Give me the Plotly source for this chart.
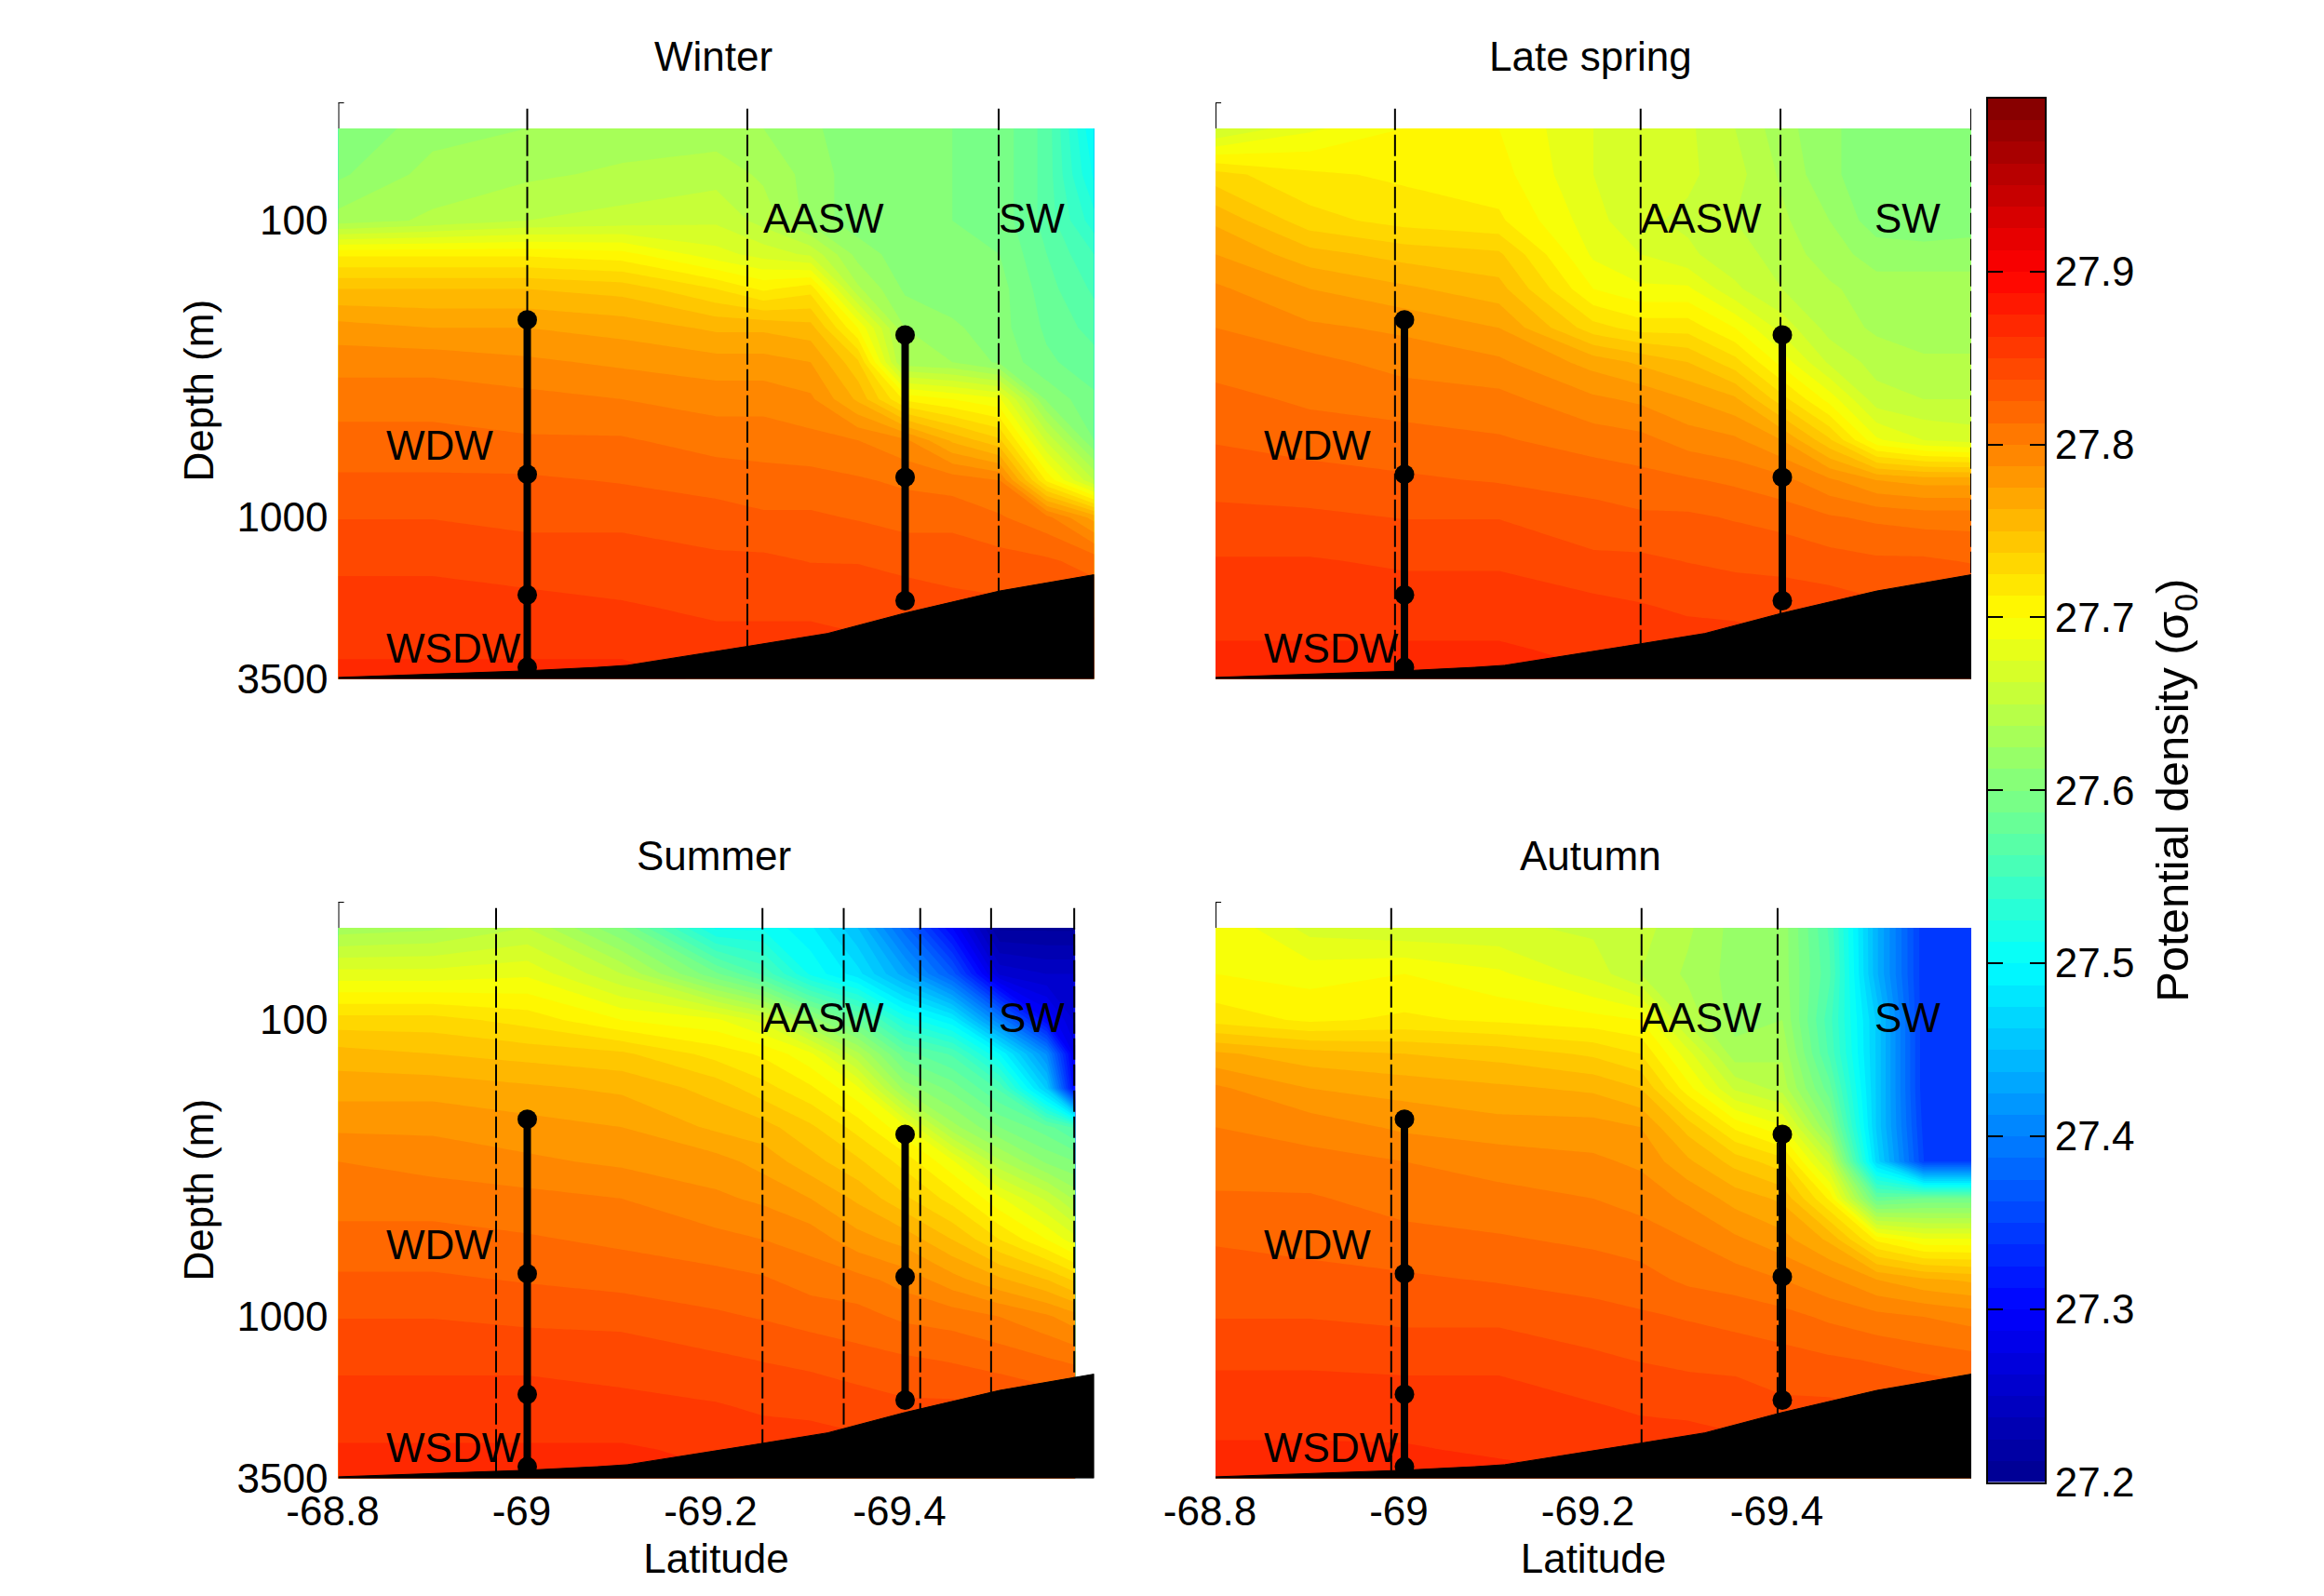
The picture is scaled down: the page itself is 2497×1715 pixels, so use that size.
import numpy as np
import plotly.graph_objects as go

W, H = 2497, 1715
FONT = "Liberation Sans"
FS = 44

panel_titles = ["Winter", "Late spring", "Summer", "Autumn"]

depths = [49, 70, 100, 130, 170, 230, 300, 400, 550, 750, 1000, 1400, 2000, 2800, 3500]
lats = [-68.8, -68.9, -69.0, -69.1, -69.2, -69.25, -69.3, -69.35, -69.4, -69.45, -69.5, -69.55, -69.6]
lats_summer = [-68.8, -68.9, -69.0, -69.1, -69.2, -69.25, -69.3, -69.35, -69.4, -69.45, -69.5, -69.55, -69.58]

# potential density, as sigma0 - 27, in hundredths
winter = [
    [60.0, 62.0, 62.5, 63.0, 63.0, 62.5, 61.5, 60.5, 60.0, 60.0, 59.5, 57.0, 50.0],
    [61.0, 63.0, 63.5, 64.0, 64.5, 63.5, 62.0, 60.5, 60.0, 60.0, 59.5, 57.0, 51.0],
    [63.0, 64.0, 65.0, 65.5, 66.0, 64.5, 62.0, 60.5, 60.0, 60.0, 59.5, 57.0, 53.0],
    [71.0, 71.0, 71.0, 70.5, 68.0, 67.0, 66.0, 62.0, 60.5, 60.0, 60.0, 57.5, 55.0],
    [75.0, 75.0, 75.0, 74.5, 72.5, 71.0, 72.0, 64.0, 61.0, 60.5, 60.5, 58.0, 56.0],
    [78.0, 77.5, 77.5, 77.0, 76.0, 76.0, 75.5, 70.0, 62.5, 61.5, 60.5, 58.5, 57.0],
    [79.5, 79.5, 79.0, 78.5, 78.0, 78.0, 77.5, 74.0, 63.0, 62.5, 61.0, 59.0, 58.0],
    [80.7, 80.7, 80.4, 80.0, 79.5, 79.5, 79.0, 76.0, 71.0, 70.0, 69.0, 61.0, 59.0],
    [81.7, 81.7, 81.4, 81.4, 80.7, 80.7, 80.4, 80.0, 79.0, 76.0, 74.0, 66.0, 60.0],
    [82.7, 82.7, 82.7, 82.4, 82.0, 81.7, 81.7, 81.4, 81.0, 80.7, 80.0, 71.0, 65.0],
    [83.7, 83.7, 83.4, 83.4, 83.0, 82.7, 82.7, 82.4, 82.0, 82.0, 81.4, 80.4, 77.0],
    [84.8, 84.8, 84.4, 84.4, 84.0, 84.0, 83.7, 83.7, 83.4, 83.4, 83.0, 82.7, 82.0],
    [85.4, 85.4, 85.4, 85.1, 84.8, 84.8, 84.8, 84.4, 84.4, 84.0, 84.0, 83.7, 83.4],
    [86.0, 86.0, 86.0, 86.0, 85.4, 85.4, 85.4, 85.4, 85.1, 84.8, 84.8, 84.8, 84.8],
    [86.8, 86.8, 86.8, 86.8, 86.0, 86.0, 86.0, 86.0, 85.7, 85.4, 85.4, 85.4, 85.4],
]
late_spring = [
    [66.0, 68.5, 70.0, 70.0, 67.5, 67.0, 66.5, 65.0, 63.0, 61.5, 60.5, 60.5, 60.5],
    [73.0, 71.5, 71.0, 70.5, 67.5, 67.0, 66.5, 65.5, 63.5, 61.5, 60.5, 60.0, 60.0],
    [76.0, 73.0, 72.0, 71.5, 68.0, 66.5, 66.0, 65.0, 64.0, 62.5, 60.5, 60.0, 60.5],
    [77.5, 75.5, 74.5, 74.0, 68.5, 67.5, 66.5, 65.5, 64.5, 63.0, 62.0, 62.0, 62.0],
    [79.0, 77.5, 76.5, 75.5, 70.0, 69.0, 69.0, 66.5, 65.0, 64.0, 63.0, 63.0, 63.0],
    [80.0, 79.0, 78.5, 77.5, 73.0, 72.0, 72.0, 70.0, 67.0, 64.5, 63.5, 63.0, 63.0],
    [80.7, 80.4, 79.5, 79.0, 77.0, 76.0, 75.0, 73.0, 69.5, 66.0, 64.5, 64.0, 64.0],
    [81.7, 81.0, 80.7, 80.4, 79.0, 78.5, 77.5, 76.5, 73.0, 69.5, 65.5, 65.0, 65.0],
    [82.4, 82.0, 81.7, 81.4, 80.7, 80.4, 79.5, 79.0, 77.5, 74.0, 69.0, 67.5, 67.0],
    [83.4, 83.0, 82.7, 82.4, 82.0, 81.7, 81.4, 81.0, 80.4, 79.0, 77.5, 77.0, 77.0],
    [84.0, 84.0, 83.7, 83.7, 83.0, 82.7, 82.7, 82.4, 82.0, 81.4, 81.0, 80.7, 80.7],
    [85.1, 85.1, 84.8, 84.8, 84.0, 84.0, 83.7, 83.4, 83.4, 83.0, 82.7, 82.7, 82.4],
    [85.7, 85.7, 85.7, 85.7, 85.4, 85.1, 84.8, 84.8, 84.4, 84.4, 84.0, 84.0, 84.0],
    [86.4, 86.4, 86.4, 86.4, 86.0, 85.7, 85.7, 85.4, 85.4, 85.1, 84.8, 84.8, 84.8],
    [86.8, 86.8, 86.8, 86.8, 86.4, 86.0, 86.0, 85.7, 85.7, 85.4, 85.4, 85.4, 85.4],
]
summer = [
    [63.0, 63.5, 65.0, 60.0, 51.0, 51.0, 49.0, 45.0, 38.0, 30.0, 21.0, 21.0, 21.0],
    [68.0, 68.0, 68.5, 65.0, 59.0, 56.0, 51.0, 48.0, 43.0, 37.0, 26.0, 25.0, 25.0],
    [73.0, 73.0, 72.0, 70.0, 69.0, 67.0, 62.0, 58.0, 52.0, 49.0, 40.0, 30.0, 26.0],
    [75.5, 75.0, 74.5, 74.0, 72.0, 71.0, 69.0, 64.0, 58.0, 56.0, 50.0, 41.0, 28.0],
    [77.0, 77.0, 76.5, 76.0, 74.5, 73.0, 71.5, 69.0, 62.0, 59.5, 56.0, 46.0, 30.0],
    [78.5, 78.5, 78.0, 77.5, 76.0, 75.5, 74.0, 72.0, 69.0, 63.0, 60.0, 58.0, 56.0],
    [80.0, 79.5, 79.0, 78.5, 78.0, 77.0, 75.5, 74.0, 72.0, 69.0, 64.0, 61.0, 60.0],
    [80.7, 80.7, 80.4, 80.0, 79.0, 78.5, 77.5, 76.0, 74.0, 72.0, 69.0, 66.0, 63.5],
    [81.7, 81.7, 81.4, 81.0, 80.4, 80.0, 79.5, 78.0, 77.0, 75.0, 72.5, 70.0, 68.0],
    [82.7, 82.7, 82.4, 82.0, 81.7, 81.4, 80.7, 80.4, 79.5, 78.0, 76.5, 75.0, 73.5],
    [83.7, 83.7, 83.4, 83.4, 82.7, 82.4, 82.0, 81.7, 81.0, 80.7, 80.0, 79.0, 78.0],
    [84.8, 84.8, 84.8, 84.4, 84.0, 83.7, 83.4, 83.0, 82.7, 82.4, 82.0, 81.4, 81.0],
    [85.4, 85.4, 85.4, 85.4, 85.1, 84.8, 84.8, 84.4, 84.0, 84.0, 83.7, 83.4, 83.4],
    [86.4, 86.4, 86.4, 86.4, 86.0, 85.7, 85.4, 85.4, 85.4, 85.1, 84.8, 84.8, 84.8],
    [86.8, 86.8, 86.8, 86.8, 86.4, 86.0, 86.0, 85.7, 85.7, 85.4, 85.4, 85.4, 85.4],
]
autumn = [
    [70.0, 67.0, 66.5, 66.5, 66.0, 65.5, 64.0, 62.0, 62.0, 56.0, 44.0, 34.0, 34.0],
    [70.0, 69.5, 70.0, 69.0, 67.0, 65.0, 63.5, 62.0, 62.0, 56.5, 44.0, 34.0, 34.0],
    [72.0, 71.0, 71.5, 71.0, 70.5, 70.0, 64.5, 62.0, 62.5, 55.5, 46.0, 34.0, 34.0],
    [76.5, 75.5, 75.0, 74.5, 73.5, 72.5, 68.0, 63.0, 63.5, 56.0, 46.0, 34.0, 34.0],
    [79.0, 77.5, 77.0, 76.5, 76.0, 75.0, 70.5, 66.0, 64.5, 58.0, 46.0, 34.0, 34.0],
    [80.0, 79.5, 78.5, 78.0, 78.0, 77.5, 74.5, 71.0, 69.0, 61.0, 46.0, 34.5, 34.0],
    [80.7, 80.4, 80.0, 79.5, 79.0, 78.5, 76.5, 74.5, 73.0, 66.0, 47.0, 35.0, 35.0],
    [81.4, 81.4, 80.7, 80.4, 80.0, 79.5, 78.5, 77.0, 76.0, 71.0, 58.0, 59.0, 59.0],
    [82.4, 82.0, 81.7, 81.4, 81.0, 80.7, 80.0, 79.0, 78.0, 76.0, 71.0, 69.0, 69.0],
    [83.0, 83.0, 82.7, 82.4, 82.0, 81.7, 81.0, 80.7, 80.0, 79.0, 77.5, 76.5, 76.0],
    [83.7, 83.7, 83.4, 83.4, 83.0, 82.7, 82.4, 82.0, 81.7, 81.0, 80.4, 80.0, 79.5],
    [84.8, 84.8, 84.8, 84.8, 84.0, 83.7, 83.4, 83.4, 83.0, 82.7, 82.4, 82.0, 81.7],
    [85.7, 85.7, 85.4, 85.4, 85.1, 84.8, 84.8, 84.4, 84.0, 84.0, 83.7, 83.7, 83.4],
    [86.4, 86.4, 86.4, 86.0, 85.7, 85.7, 85.4, 85.4, 85.1, 85.1, 84.8, 84.8, 84.8],
    [86.8, 86.8, 86.8, 86.8, 86.4, 86.0, 86.0, 85.7, 85.7, 85.4, 85.4, 85.4, 85.4],
]

# seabed
bathy_lat = [-68.8, -68.85, -68.927, -68.997, -69.074, -69.106, -69.233, -69.318, -69.4, -69.5, -69.6]
bathy_depth = [3460, 3420, 3350, 3290, 3200, 3150, 2720, 2460, 2100, 1770, 1560]

# CTD stations (dashed) per panel
stations_winter = [-69.0, -69.233, -69.499]
stations_spring = [-68.99, -69.25, -69.398, -69.6]
stations_summer = [-68.967, -69.249, -69.335, -69.416, -69.491, -69.579]
stations_autumn = [-68.986, -69.251, -69.395]

# moorings
mooring_lats = [-69.0, -69.4]
mooring_depths = [[216, 716, 1824, 3200], [243, 733, 1909]]

cbar_ticks = [27.2, 27.3, 27.4, 27.5, 27.6, 27.7, 27.8, 27.9]
x_ticks = [-68.8, -69.0, -69.2, -69.4]
x_ticktext = ["-68.8", "-69", "-69.2", "-69.4"]
y_ticks = [100, 1000, 3500]
y_ticktext = ["100", "1000", "3500"]

SIG_MIN, SIG_MAX, SIG_STEP = 27.2, 28.0, 0.0125
jet = [[0, "rgb(0,0,143)"], [0.125, "rgb(0,0,255)"], [0.375, "rgb(0,255,255)"],
       [0.625, "rgb(255,255,0)"], [0.875, "rgb(255,0,0)"], [1, "rgb(128,0,0)"]]

labels = {
    0: [("WDW", -68.851, 571), ("WSDW", -68.851, 2757), ("AASW", -69.25, 98), ("SW", -69.499, 98)],
    1: [("WDW", -68.851, 571), ("WSDW", -68.851, 2757), ("AASW", -69.25, 98), ("SW", -69.498, 98)],
    2: [("WDW", -68.851, 571), ("WSDW", -68.851, 2757), ("AASW", -69.25, 98), ("SW", -69.499, 98)],
    3: [("WDW", -68.851, 571), ("WSDW", -68.851, 2757), ("AASW", -69.25, 98), ("SW", -69.498, 98)],
}

panels = [
    (winter, lats, stations_winter),
    (late_spring, lats, stations_spring),
    (summer, lats_summer, stations_summer),
    (autumn, lats, stations_autumn),
]
X_DOM = [(363.5, 1175.5), (1306, 2118), (363.5, 1175.5), (1306, 2118)]
Y_DOM = [(110, 729.5), (110, 729.5), (969, 1588.5), (969, 1588.5)]
AX_TOP, AX_BOTTOM = 40, 3500


def xdom(a, b):
    return [a / W, b / W]


def ydom(a, b):
    return [1 - b / H, 1 - a / H]


def seabed_at(lat):
    return float(10 ** np.interp(-lat, [-v for v in bathy_lat], np.log10(bathy_depth)))


fig = go.Figure()
layout = dict(
    width=W, height=H, autosize=False, margin=dict(l=0, r=0, t=0, b=0),
    paper_bgcolor="white", plot_bgcolor="white", showlegend=False,
    font=dict(family=FONT, size=FS, color="black"),
)
annotations = []
shapes = []
tfont = dict(family=FONT, size=FS, color="black")

for i, (grid, col_lats, stations) in enumerate(panels):
    n = "" if i == 0 else str(i + 1)
    xa, ya = f"x{n}", f"y{n}"
    bottom = i >= 2
    left = i % 2 == 0
    xaxis = dict(
        domain=xdom(*X_DOM[i]), anchor=ya, range=[-68.8, -69.6], showgrid=False, zeroline=False,
        showline=False, ticks="", automargin=False, tickfont=tfont,
    )
    if bottom:
        xaxis.update(tickmode="array", tickvals=x_ticks, ticktext=x_ticktext, ticklabelstandoff=5,
                     ticklabelshift=6, title=dict(text="Latitude", standoff=12, font=tfont))
    else:
        xaxis.update(showticklabels=False)
    yaxis = dict(
        domain=ydom(*Y_DOM[i]), anchor=xa, type="log",
        range=[np.log10(AX_BOTTOM), np.log10(AX_TOP)], showgrid=False, zeroline=False,
        showline=False, ticks="", automargin=False, tickfont=tfont,
    )
    if left:
        yaxis.update(tickmode="array", tickvals=y_ticks, ticktext=y_ticktext, ticklabelstandoff=10,
                     title=dict(text="Depth (m)", standoff=11, font=tfont))
    else:
        yaxis.update(showticklabels=False)
    layout[f"xaxis{n}"] = xaxis
    layout[f"yaxis{n}"] = yaxis
    fig.add_trace(go.Contour(
        x=col_lats, y=depths, z=27 + np.array(grid) / 100, xaxis=xa, yaxis=ya,
        colorscale=jet, zmin=SIG_MIN, zmax=SIG_MAX, autocontour=False, showscale=False,
        contours=dict(start=SIG_MIN, end=SIG_MAX, size=SIG_STEP, coloring="fill", showlines=False),
        line=dict(width=0, smoothing=0), hoverinfo="skip",
    ))
    # seabed
    fig.add_trace(go.Scatter(
        x=bathy_lat + [-69.6, -68.8], y=bathy_depth + [AX_BOTTOM, AX_BOTTOM], mode="lines",
        fill="toself", fillcolor="black", line=dict(color="black", width=1), xaxis=xa, yaxis=ya,
        hoverinfo="skip",
    ))
    # stations
    for s in stations:
        fig.add_trace(go.Scatter(
            x=[s, s], y=[42, seabed_at(s)], mode="lines", xaxis=xa, yaxis=ya,
            line=dict(color="black", width=2, dash="23px,5px"), hoverinfo="skip",
        ))
    # moorings
    for m_lat, m_depth in zip(mooring_lats, mooring_depths):
        fig.add_trace(go.Scatter(
            x=[m_lat] * len(m_depth), y=m_depth, mode="lines+markers", xaxis=xa, yaxis=ya,
            line=dict(color="black", width=8), marker=dict(color="black", size=21), hoverinfo="skip",
        ))
    # axis stub above the data and its little top tick
    shapes.append(dict(type="line", xref=xa, yref=ya, x0=-68.8, x1=-68.8, y0=AX_TOP, y1=depths[0],
                       line=dict(color="black", width=2)))
    shapes.append(dict(type="line", xref=xa, yref=ya, x0=-68.8, x1=-68.806, y0=AX_TOP, y1=AX_TOP,
                       line=dict(color="black", width=2)))
    # panel title
    cx = (X_DOM[i][0] + X_DOM[i][1]) / 2 - 3
    annotations.append(dict(text=panel_titles[i], xref="paper", yref="paper", x=cx / W,
                            y=1 - (Y_DOM[i][0] - 49.5) / H, showarrow=False, xanchor="center", yanchor="middle",
                            font=tfont))
    for text, lat, dep in labels[i]:
        annotations.append(dict(text=text, xref=xa, yref=ya, x=lat, y=np.log10(dep), showarrow=False,
                                xanchor="left", yanchor="middle", xshift=-1, borderpad=0, font=tfont))

# colour bar drawn as its own axis so ticks sit on both sides, as in the reference
band_levels = np.arange(SIG_MIN + SIG_STEP / 2, SIG_MAX, SIG_STEP)
fig.add_trace(go.Heatmap(
    x=[0], y=band_levels, z=band_levels[:, None], xaxis="x5", yaxis="y5", colorscale=jet,
    zmin=SIG_MIN, zmax=SIG_MAX, showscale=False, hoverinfo="skip",
))
layout["xaxis5"] = dict(domain=xdom(2136, 2197), anchor="y5", range=[-0.5, 0.5], showgrid=False, zeroline=False,
                        showticklabels=False, ticks="", showline=True, mirror=True, linecolor="black", linewidth=2,
                        automargin=False)
layout["yaxis5"] = dict(
    domain=ydom(106, 1592.5), anchor="x5", side="right", range=[SIG_MIN, SIG_MAX], showgrid=False, zeroline=False,
    tickmode="array", tickvals=cbar_ticks, ticktext=[f"{t:.1f}" for t in cbar_ticks], automargin=False,
    ticks="inside", ticklen=16, tickwidth=2, tickcolor="black", mirror="ticks", showline=True, linecolor="black", linewidth=2,
    tickfont=tfont, ticklabelstandoff=0,
    title=dict(text="Potential density (σ<sub>0</sub>)", standoff=24, font=dict(family=FONT, size=49, color="black")),
)

layout["annotations"] = annotations
layout["shapes"] = shapes
fig.update_layout(**layout)
fig.write_html("out.html", post_script="document.body.style.margin='0';", config={"displayModeBar": False})
